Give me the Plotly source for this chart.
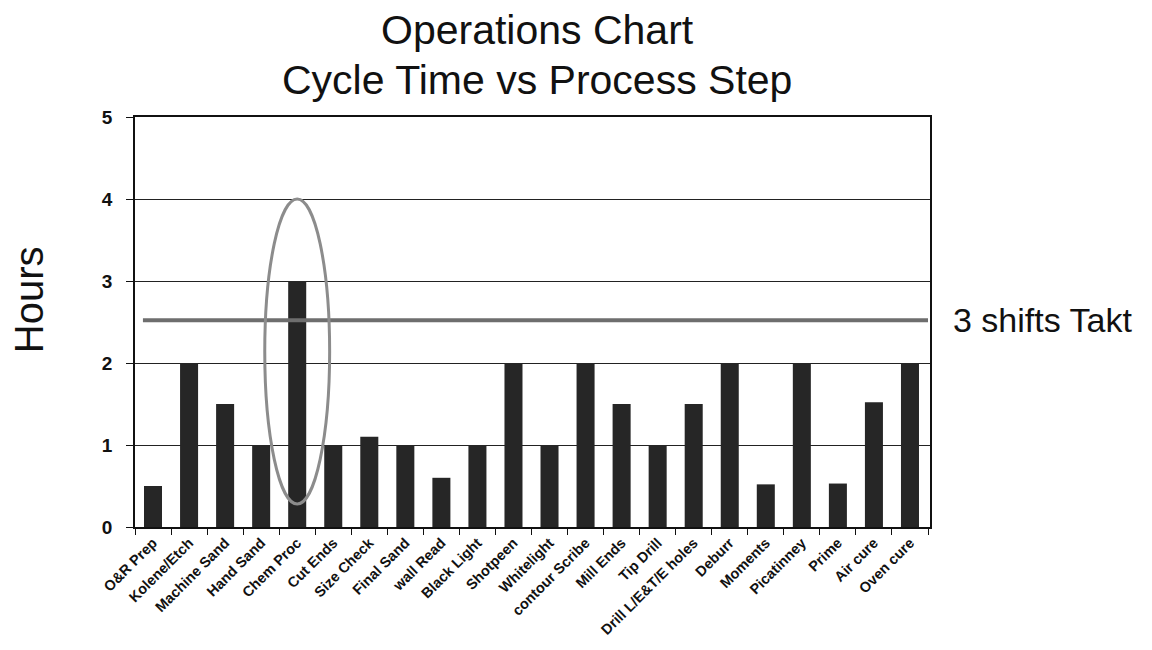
import plotly.graph_objects as go

steps = ["O&R Prep", "Kolene/Etch", "Machine Sand", "Hand Sand", "Chem Proc",
         "Cut Ends", "Size Check", "Final Sand", "wall Read", "Black Light",
         "Shotpeen", "Whitelight", "contour Scribe", "Mill Ends", "Tip Drill",
         "Drill L/E&T/E holes", "Deburr", "Moments", "Picatinney", "Prime",
         "Air cure", "Oven cure"]
hours = [0.5, 2.0, 1.5, 1.0, 3.0, 1.0, 1.1, 1.0, 0.6, 1.0, 2.0, 1.0, 2.0,
         1.5, 1.0, 1.5, 2.0, 0.52, 2.0, 0.53, 1.52, 2.0]
takt = 2.52
takt_label = "3 shifts Takt"
highlight_step = "Chem Proc"
highlight_low, highlight_high = 0.28, 4.0
title_lines = ["Operations Chart", "Cycle Time vs Process Step"]

FONT = "Liberation Sans, Arial, sans-serif"

fig = go.Figure()
fig.add_trace(go.Bar(x=steps, y=hours, marker=dict(color="#262626", line=dict(width=0)),
                     showlegend=False))

hi = steps.index(highlight_step)
fig.add_shape(type="line", xref="x", yref="y", x0=-0.28, x1=len(steps) - 0.5,
              y0=takt, y1=takt, line=dict(color="#6e6e6e", width=4), layer="above")
fig.add_shape(type="circle", xref="x", yref="y", x0=hi - 0.9, x1=hi + 0.9,
              y0=highlight_low, y1=highlight_high,
              line=dict(color="#8c8c8c", width=3), layer="above")

for txt, yy in zip(title_lines, [1.212, 1.090]):
    fig.add_annotation(text=txt, xref="paper", yref="paper", x=0.506, y=yy,
                       xanchor="center", yanchor="middle", showarrow=False,
                       font=dict(family=FONT, size=41, color="#111"))

fig.add_annotation(text="Hours", xref="paper", yref="paper", x=-0.133, y=0.554,
                   xanchor="center", yanchor="middle",
                   textangle=-90, showarrow=False, font=dict(family=FONT, size=40, color="#111"))
fig.add_annotation(text=takt_label, xref="paper", yref="y", x=1.027, y=takt,
                   xanchor="left", yanchor="middle", showarrow=False,
                   font=dict(family=FONT, size=34, color="#111"))

fig.update_layout(
    width=1144, height=642,
    paper_bgcolor="white", plot_bgcolor="white",
    margin=dict(l=127, r=222, t=109, b=123),
    bargap=0.5,
    xaxis=dict(type="category", showline=True, mirror=True, linecolor="#111", linewidth=1.5,
               ticks="outside", tickson="boundaries", ticklen=6, tickcolor="#111",
               tickangle=-45, showgrid=False,
               tickfont=dict(family=FONT, size=14.5, color="#111", weight="bold")),
    yaxis=dict(range=[0, 5], dtick=1, showline=True, mirror=True, linecolor="#111", linewidth=1.5,
               ticks="outside", ticklen=7, tickcolor="#111", ticklabelstandoff=10,
               showgrid=True, gridcolor="#222", gridwidth=1.2, zeroline=False,
               tickfont=dict(family=FONT, size=19, color="#111", weight="bold")),
)

fig.write_html("out.html")
